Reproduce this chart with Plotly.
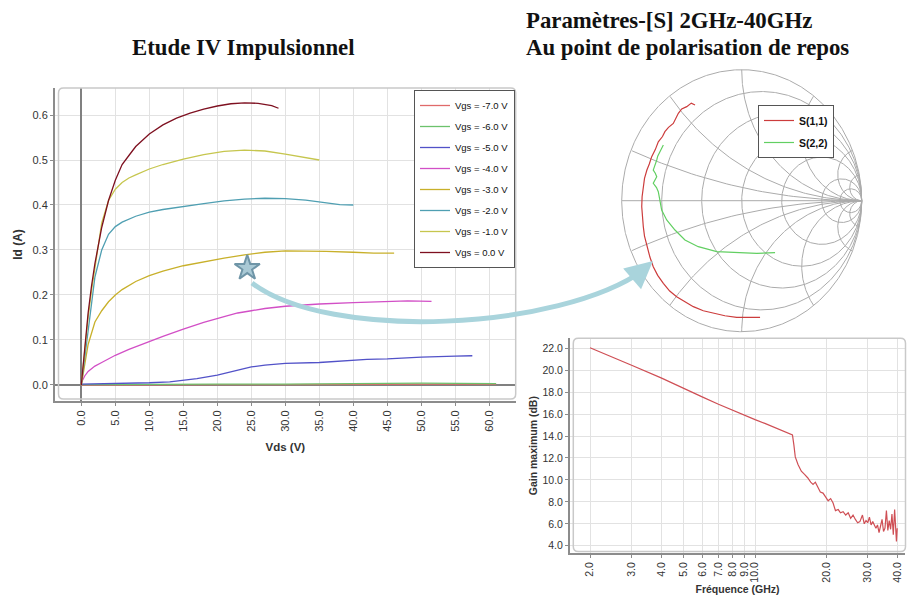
import numpy as np
import plotly.graph_objects as go

W, H = 907, 598


def px(x):
    return x / W


def py(y):
    return 1 - y / H


# ---------------- IV pulsed characteristics ----------------
vgs_names = ["Vgs = -7.0 V", "Vgs = -6.0 V", "Vgs = -5.0 V", "Vgs = -4.0 V",
             "Vgs = -3.0 V", "Vgs = -2.0 V", "Vgs = -1.0 V", "Vgs = 0.0 V"]
vgs_colors = ["#e06a6a", "#6cc26c", "#5252c8", "#d24fc6",
              "#c8b02a", "#4f9fb2", "#c6c64e", "#7e1020"]

vds_m7 = [0, 10, 20, 30, 40, 50, 61]
id_m7 = [0.0, 0.001, 0.001, 0.001, 0.002, 0.002, 0.002]
vds_m6 = [0, 10, 20, 30, 40, 50, 61]
id_m6 = [0.001, 0.002, 0.002, 0.002, 0.003, 0.004, 0.003]
vds_m5 = [0, 5, 10, 13, 15, 17, 20, 23, 25, 27, 30, 35, 40, 42, 45, 50, 55, 57.5]
id_m5 = [0.002, 0.003, 0.005, 0.007, 0.010, 0.014, 0.022, 0.033, 0.040, 0.044,
         0.048, 0.050, 0.055, 0.057, 0.058, 0.062, 0.064, 0.065]
vds_m4 = [0, 0.5, 1, 2, 3, 5, 7, 10, 12, 15, 18, 21, 23, 25, 27, 30, 35, 40, 45, 48, 51.5]
id_m4 = [0.005, 0.020, 0.030, 0.042, 0.050, 0.066, 0.079, 0.097, 0.108, 0.124, 0.139,
         0.152, 0.160, 0.165, 0.170, 0.175, 0.180, 0.183, 0.185, 0.187, 0.186]
vds_m3 = [0, 0.5, 1, 2, 3, 4, 5, 6, 8, 10, 12, 15, 18, 21, 24, 27, 30, 33, 36, 40, 43, 46]
id_m3 = [0.0, 0.05, 0.09, 0.14, 0.165, 0.185, 0.200, 0.212, 0.230, 0.243, 0.253, 0.265,
         0.274, 0.282, 0.289, 0.295, 0.298, 0.298, 0.297, 0.295, 0.293, 0.293]
vds_m2 = [0, 0.5, 1, 1.5, 2, 3, 4, 5, 6, 8, 10, 12, 15, 18, 21, 24, 27, 30, 33, 36, 38, 40]
id_m2 = [0.0, 0.06, 0.12, 0.19, 0.24, 0.30, 0.335, 0.352, 0.362, 0.375, 0.384, 0.390,
         0.397, 0.403, 0.409, 0.413, 0.415, 0.414, 0.411, 0.405, 0.401, 0.400]
vds_m1 = [0, 0.5, 1, 1.5, 2, 3, 4, 5, 6, 7, 8, 10, 12, 15, 18, 21, 24, 27, 30, 33, 35]
id_m1 = [0.0, 0.08, 0.15, 0.21, 0.26, 0.36, 0.41, 0.435, 0.45, 0.46, 0.467, 0.48, 0.49,
         0.502, 0.512, 0.519, 0.522, 0.520, 0.513, 0.506, 0.500]
vds_0 = [0, 0.5, 1, 1.5, 2, 3, 4, 5, 6, 7, 8, 10, 12, 14, 16, 18, 20, 22, 24, 26, 28, 29]
id_0 = [0.0, 0.08, 0.16, 0.22, 0.27, 0.35, 0.41, 0.455, 0.49, 0.51, 0.53, 0.558, 0.578,
        0.593, 0.604, 0.613, 0.620, 0.625, 0.627, 0.626, 0.621, 0.615]

iv_vds = [vds_m7, vds_m6, vds_m5, vds_m4, vds_m3, vds_m2, vds_m1, vds_0]
iv_id = [id_m7, id_m6, id_m5, id_m4, id_m3, id_m2, id_m1, id_0]

bias_vds = [24.4]
bias_id = [0.26]

vds_ticks = [0, 5, 10, 15, 20, 25, 30, 35, 40, 45, 50, 55, 60]

# ---------------- S-parameters (reflection coefficient) ----------------
s11_re = [-0.389, -0.42, -0.458, -0.50, -0.528, -0.55, -0.57, -0.61, -0.64, -0.66, -0.695,
          -0.72, -0.75, -0.77, -0.79, -0.81, -0.82, -0.83, -0.833, -0.828, -0.82, -0.81,
          -0.79, -0.765, -0.737, -0.70, -0.653, -0.60, -0.542, -0.47, -0.403, -0.32,
          -0.237, -0.14, -0.042, 0.05, 0.153]
s11_im = [0.731, 0.745, 0.718, 0.70, 0.667, 0.63, 0.59, 0.56, 0.527, 0.49, 0.45, 0.39,
          0.336, 0.28, 0.234, 0.17, 0.107, 0.03, -0.046, -0.12, -0.198, -0.27, -0.351,
          -0.43, -0.504, -0.57, -0.631, -0.69, -0.733, -0.775, -0.809, -0.84, -0.86,
          -0.878, -0.89, -0.892, -0.89]
s22_re = [-0.653, -0.681, -0.70, -0.708, -0.737, -0.72, -0.708, -0.737, -0.71, -0.695,
          -0.681, -0.667, -0.625, -0.556, -0.473, -0.362, -0.208, -0.042, 0.125, 0.278]
s22_im = [0.425, 0.374, 0.34, 0.311, 0.234, 0.21, 0.183, 0.133, 0.10, 0.069, 0.005,
          -0.071, -0.147, -0.224, -0.30, -0.351, -0.389, -0.397, -0.402, -0.397]

smith_r = [0.2, 0.5, 1, 2, 5, 10]
smith_x = [0.2, 0.5, 1, 2, 5, 10]

# ---------------- Maximum gain ----------------
freq_ghz = [2.0, 2.5, 3.0, 4.0, 5.0, 6.0, 7.0, 8.0, 9.0, 10.0, 11.0, 12.0, 13.0, 14.0, 14.4,
            14.6, 14.8, 15.2, 15.7, 16.2, 16.7, 17.2, 17.6, 18.0, 18.4, 18.9, 19.4, 19.9,
            20.4, 20.9, 21.4, 21.9, 22.5, 23.0, 23.6, 24.2, 24.8, 25.4, 26.0, 26.6, 27.2,
            27.8, 28.5, 29.0, 29.5, 30.0, 30.5, 31.0, 31.5, 32.0, 32.5, 33.0, 33.5, 34.0,
            34.5, 35.0, 35.5, 36.0, 36.5, 37.0, 37.5, 38.0, 38.5, 39.0, 39.4, 39.7, 40.0]
gain_db = [22.05, 21.2, 20.45, 19.3, 18.3, 17.55, 16.9, 16.35, 15.9, 15.5, 15.15, 14.8,
           14.5, 14.25, 14.1, 13.2, 12.1, 11.4, 10.8, 10.5, 10.2, 9.8, 9.6, 9.8, 9.4, 8.9,
           8.8, 8.4, 8.1, 8.3, 7.9, 7.2, 7.3, 7.0, 7.1, 6.8, 7.0, 6.5, 6.8, 6.4, 6.1, 6.2,
           6.8, 6.0, 6.3, 6.1, 6.6, 5.9, 6.2, 5.9, 5.6, 5.9, 5.2, 5.8, 6.4, 5.3, 5.6, 7.2,
           5.4, 6.3, 5.5, 6.9, 5.0, 7.3, 4.9, 4.4, 5.6]
freq_ticks = [2, 3, 4, 5, 6, 7, 8, 9, 10, 20, 30, 40]
gain_ticks = [4, 6, 8, 10, 12, 14, 16, 18, 20, 22]

FONT = "Liberation Sans, Arial, sans-serif"
SERIF = "Liberation Serif, Times New Roman, serif"

fig = go.Figure()

for name, vds, idv, col in zip(vgs_names, iv_vds, iv_id, vgs_colors):
    fig.add_trace(go.Scatter(x=vds, y=idv, mode="lines", name=name,
                             line=dict(color=col, width=1.3),
                             legendgroup=name, legend="legend",
                             xaxis="x", yaxis="y", hoverinfo="skip"))

fig.add_trace(go.Scatter(x=bias_vds, y=bias_id, mode="markers", showlegend=False,
                         marker=dict(symbol="star", size=19, color="#a9c9d5",
                                     line=dict(color="#6f95a7", width=2)),
                         xaxis="x", yaxis="y", cliponaxis=False, hoverinfo="skip"))

# Smith chart grid (computed geometry)
gx, gy = [], []
t = np.linspace(0, 2 * np.pi, 721)
gx += list(np.cos(t)) + [None]
gy += list(np.sin(t)) + [None]
gx += [-1, 1, None]
gy += [0, 0, None]
for r in smith_r:
    c, rad = r / (1 + r), 1 / (1 + r)
    gx += list(c + rad * np.cos(t)) + [None]
    gy += list(rad * np.sin(t)) + [None]
for xv in smith_x:
    for s in (1, -1):
        cy, rad = s / xv, 1 / xv
        xs = 1 + rad * np.cos(t)
        ys = cy + rad * np.sin(t)
        inside = xs ** 2 + ys ** 2 <= 1.0005
        for a, b, ok in zip(xs, ys, inside):
            if ok:
                gx.append(a)
                gy.append(b)
            elif gx[-1] is not None:
                gx.append(None)
                gy.append(None)
        gx.append(None)
        gy.append(None)
fig.add_trace(go.Scatter(x=gx, y=gy, mode="lines", showlegend=False,
                         line=dict(color="#ababab", width=1),
                         xaxis="x2", yaxis="y2", hoverinfo="skip"))

fig.add_trace(go.Scatter(x=s11_re, y=s11_im, mode="lines", name="S(1,1)",
                         line=dict(color="#cc3c3c", width=1.2), legend="legend2",
                         legendgroup="s11", xaxis="x2", yaxis="y2", hoverinfo="skip"))
fig.add_trace(go.Scatter(x=s22_re, y=s22_im, mode="lines", name="S(2,2)",
                         line=dict(color="#62cf62", width=1.2), legend="legend2",
                         legendgroup="s22", xaxis="x2", yaxis="y2", hoverinfo="skip"))

fig.add_trace(go.Scatter(x=freq_ghz, y=gain_db, mode="lines", showlegend=False,
                         line=dict(color="#cf4f55", width=1.2),
                         xaxis="x3", yaxis="y3", hoverinfo="skip"))

tickfont = dict(family=FONT, size=11, color="#333")
axline = dict(showline=True, linecolor="#8c8c8c", linewidth=2, ticks="outside",
              ticklen=3, tickcolor="#8c8c8c", showgrid=True, gridcolor="#e2e2e2",
              gridwidth=1)


def rrect(x0, y0, x1, y1, r):
    rx, ry = r / W, r / H
    X0, X1, Yt, Yb = px(x0), px(x1), py(y0), py(y1)
    return (f"M{X0 + rx},{Yt} L{X1 - rx},{Yt} Q{X1},{Yt} {X1},{Yt - ry} "
            f"L{X1},{Yb + ry} Q{X1},{Yb} {X1 - rx},{Yb} L{X0 + rx},{Yb} "
            f"Q{X0},{Yb} {X0},{Yb + ry} L{X0},{Yt - ry} Q{X0},{Yt} {X0 + rx},{Yt} Z")


shapes = [
    dict(type="path", xref="paper", yref="paper", path=rrect(58.5, 88, 515.7, 399, 5),
         line=dict(color="#c9c9c9", width=1.5), layer="above"),
    dict(type="path", xref="paper", yref="paper", path=rrect(573.3, 338.3, 905.5, 551.5, 5),
         line=dict(color="#c9c9c9", width=1.5), layer="above"),
    dict(type="path", xref="paper", yref="paper",
         path=(f"M{px(252)},{py(283)} C{px(330)},{py(342)} {px(560)},{py(330)} "
               f"{px(644)},{py(270)}"),
         line=dict(color="#a9d4dc", width=5), layer="above"),
]

annotations = [
    dict(text="<b>Etude IV Impulsionnel</b>", x=px(243), y=py(48), xref="paper",
         yref="paper", xanchor="center", yanchor="middle", showarrow=False,
         font=dict(family=SERIF, size=22.8, color="#111")),
    dict(text="<b>Paramètres-[S] 2GHz-40GHz</b>", x=px(524), y=py(21), xref="paper",
         yref="paper", xanchor="left", yanchor="middle", showarrow=False,
         font=dict(family=SERIF, size=22.8, color="#111")),
    dict(text="<b>Au point de polarisation de repos</b>", x=px(524), y=py(48),
         xref="paper", yref="paper", xanchor="left", yanchor="middle", showarrow=False,
         font=dict(family=SERIF, size=22.8, color="#111")),
    dict(text="", x=px(653), y=py(261), xref="paper", yref="paper", showarrow=True,
         ax=-14, ay=12, arrowhead=2, arrowsize=1.1, arrowwidth=5, arrowcolor="#a9d4dc"),
]

fig.update_layout(
    width=W, height=H, autosize=False,
    margin=dict(l=0, r=0, t=0, b=0),
    paper_bgcolor="white", plot_bgcolor="white",
    showlegend=True,
    xaxis=dict(domain=[px(55), px(515.7)], range=[-3.87, 63.88], tickvals=vds_ticks,
               tickformat=".1f", tickangle=-90, tickfont=tickfont,
               zeroline=True, zerolinecolor="#808080", zerolinewidth=2,
               title=dict(text="<b>Vds (V)</b>", font=dict(family=FONT, size=11.5, color="#333"),
                          standoff=12),
               anchor="y", **axline),
    yaxis=dict(domain=[py(401), py(88)], range=[-0.0356, 0.66], tick0=0, dtick=0.1,
               tickformat=".1f", tickfont=tickfont,
               zeroline=True, zerolinecolor="#808080", zerolinewidth=2,
               title=dict(text="<b>Id (A)</b>", font=dict(family=FONT, size=12, color="#333"),
                          standoff=7),
               anchor="x", **axline),
    xaxis2=dict(domain=[px(741.7 - 1.03 * 120), px(741.7 + 1.03 * 120)],
                range=[-1.03, 1.03], visible=False, anchor="y2"),
    yaxis2=dict(domain=[py(200.7 + 1.03 * 131), py(200.7 - 1.03 * 131)],
                range=[-1.03, 1.03], visible=False, anchor="x2"),
    xaxis3=dict(domain=[px(570), px(905)], type="log", range=[0.2162, 1.6350],
                tickvals=freq_ticks, tickformat=".1f", tickangle=-90,
                tickfont=dict(family=FONT, size=10.5, color="#333"), zeroline=False,
                title=dict(text="<b>Fréquence (GHz)</b>",
                           font=dict(family=FONT, size=10.5, color="#333"), standoff=4),
                anchor="y3", **axline),
    yaxis3=dict(domain=[py(553), py(338.3)], range=[3.34, 22.91], tickvals=gain_ticks,
                tickformat=".1f", tickfont=dict(family=FONT, size=10.5, color="#333"),
                zeroline=False,
                title=dict(text="<b>Gain maximum (dB)</b>",
                           font=dict(family=FONT, size=10.5, color="#333"), standoff=3),
                anchor="x3", **axline),
    legend=dict(x=px(515), xanchor="right", y=py(90), yanchor="top", bgcolor="white",
                bordercolor="#555", borderwidth=1, tracegroupgap=2,
                font=dict(family=FONT, size=9.5, color="#111")),
    legend2=dict(x=px(758), xanchor="left", y=py(105), yanchor="top", bgcolor="white",
                 bordercolor="#555", borderwidth=1, tracegroupgap=3,
                 font=dict(family=FONT, size=10.5, color="#111", weight="bold")),
    shapes=shapes,
    annotations=annotations,
)

fig.write_html("out.html")
